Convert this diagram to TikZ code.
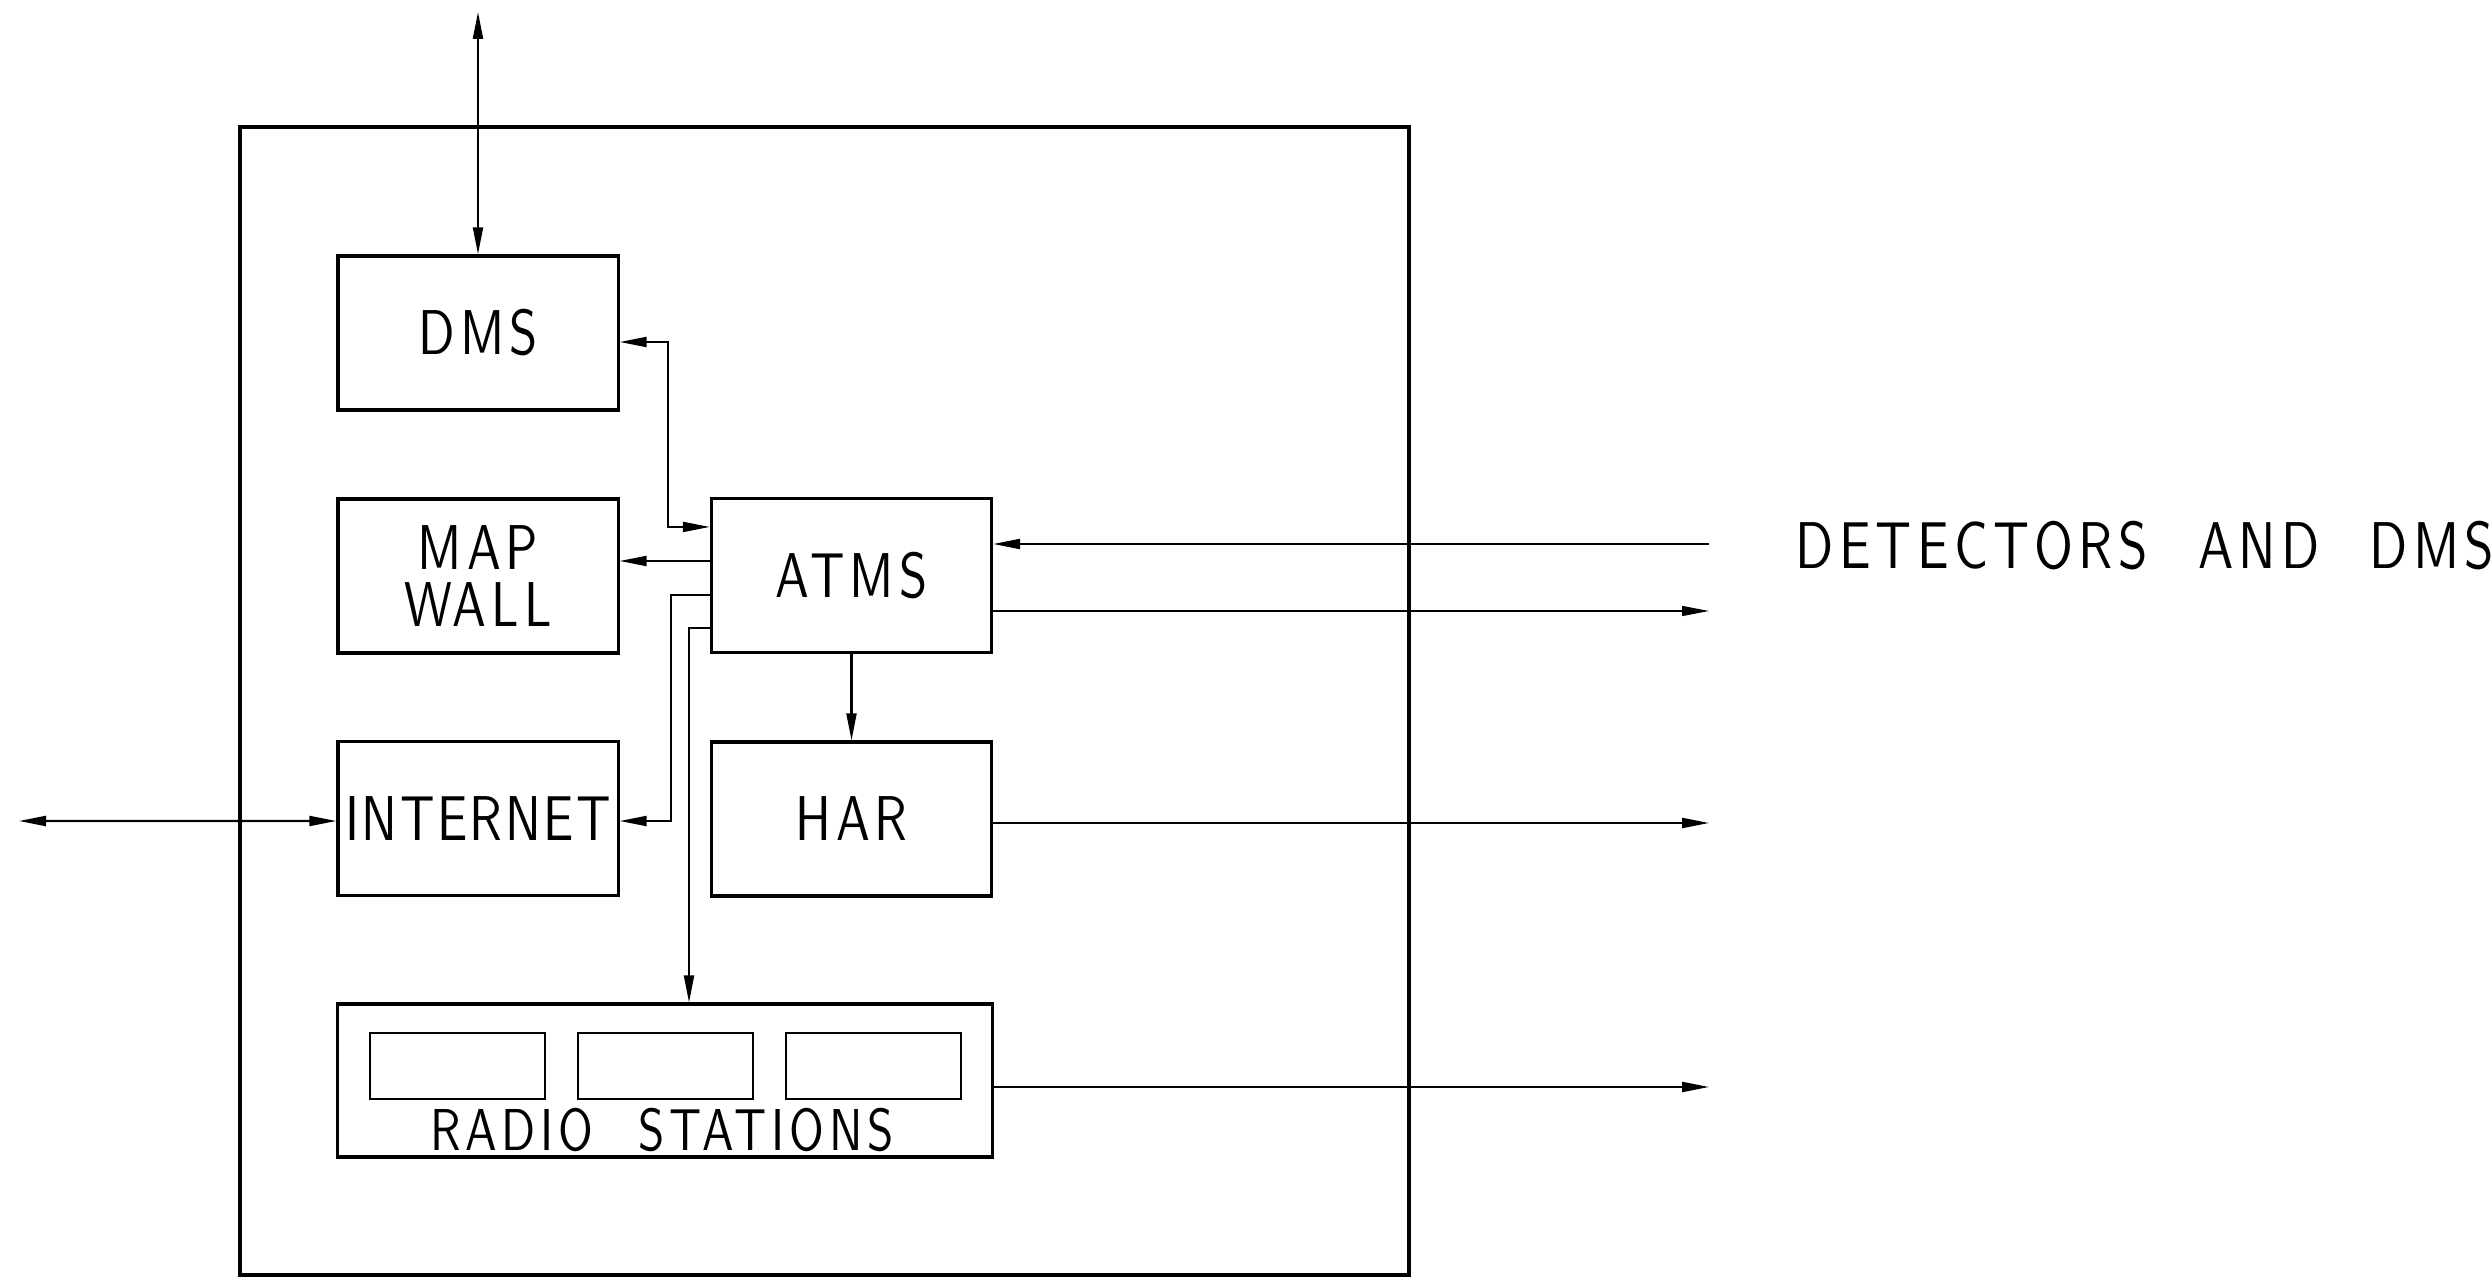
\documentclass[tikz,border=0pt]{standalone}
\usepackage{fontspec}
\usepackage{tikz}
\usetikzlibrary{arrows.meta,positioning}
\newfontfamily\cadfont{lmsans10-regular.otf}[FakeStretch=0.8,LetterSpace=8,WordSpace=2.2]
\newfontfamily\cadtight{lmsans10-regular.otf}[FakeStretch=0.8,LetterSpace=4]
\tikzset{
  unit/.style    = {draw, line width=0.9pt, rectangle, minimum width=2.8cm,
                    minimum height=1.54cm, align=center, inner sep=0pt},
  slot/.style    = {draw, line width=0.5pt, rectangle, minimum width=1.75cm,
                    minimum height=0.66cm, inner sep=0pt},
  sig/.style     = {-{Triangle[length=2.7mm,width=1mm]}, line width=0.6pt},
  bisig/.style   = {{Triangle[length=2.7mm,width=1mm]}-{Triangle[length=2.7mm,width=1mm]}, line width=0.6pt},
}

\begin{document}
\begin{tikzpicture}[x=0.01cm,y=-0.01cm,font=\cadfont\fontsize{18}{16}\selectfont]
\useasboundingbox (0,0) rectangle (2491,1277);
\draw[line width=0.9pt] (240,1275) -- (240,127) -- (1409,127) -- (1409,1275) -- cycle;
\node[unit] (dms) at (478,333) {DMS};
\node[unit] (map) at (478,576) {MAP\\WALL};
\node[unit,font=\cadtight\fontsize{18}{16}\selectfont] (inet) at (478,818.5) {INTERNET};
\node[unit] (atms) at (851.5,575.5) {ATMS};
\node[unit] (har) at (851.5,819) {HAR};
\node[unit,minimum width=6.54cm,minimum height=1.53cm] (radio) at (665,1080.5) {};
\node[slot] (st1) at (457.5,1066) {};
\node[slot] (st2) at (665.5,1066) {};
\node[slot] (st3) at (873.5,1066) {};
\node[font=\cadfont\fontsize{16.8}{16}\selectfont,anchor=base] (radiolbl) at (662,1150) {RADIO STATIONS};
\node[font=\cadfont\fontsize{18.8}{18}\selectfont] (det) at (2145,546) {DETECTORS AND DMS};
\coordinate (dmsup) at (478,12);
\coordinate (iout) at (19,821);
\coordinate (din) at (1709,544);
\coordinate (dout) at (1709,611);
\coordinate (a0) at ([yshift=0.485cm]atms.west);
\coordinate (a1) at ([yshift=0.145cm]atms.west);
\coordinate (a2) at ([yshift=-0.195cm]atms.west);
\coordinate (a3) at ([yshift=-0.525cm]atms.west);
\draw[bisig] (dmsup) -- (dms);
\draw[bisig] ([yshift=-0.09cm]dms.east) -- ++(48,0) |- (a0);
\draw[sig] (a1) -- (a1 -| map.east);
\draw[sig] (a2) -- ++(-39,0) |- ([yshift=-0.025cm]inet.east);
\draw[sig] (a3) -| ([xshift=0.24cm]radio.north);
\draw[sig] (atms) -- (har);
\draw[bisig] (iout) -- ([yshift=-0.025cm]inet.west);
\draw[sig] (din) -- (din -| atms.east);
\draw[sig,line width=0.4pt] (dout -| atms.east) -- (dout);
\draw[sig] ([yshift=-0.04cm]har.east) -- ([yshift=-0.04cm]har.east -| dout);
\draw[sig] ([yshift=-0.065cm]radio.east) -- ([yshift=-0.065cm]radio.east -| dout);
\end{tikzpicture}
\end{document}
